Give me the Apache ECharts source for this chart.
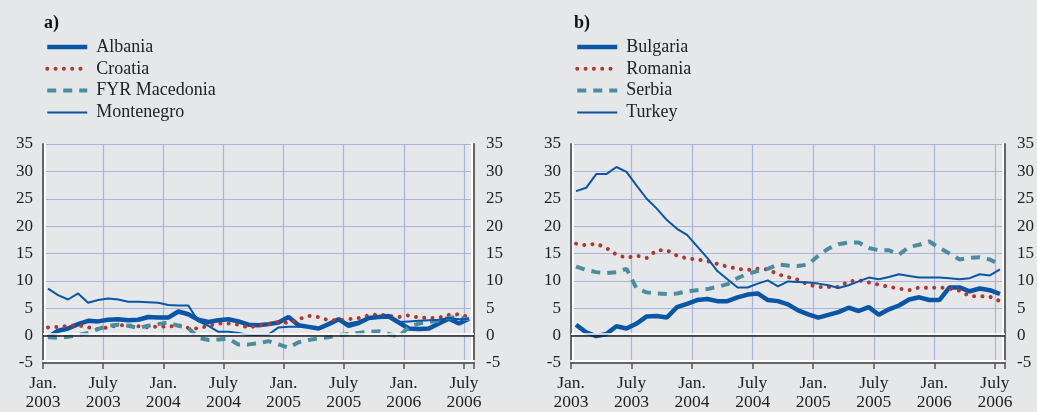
<!doctype html>
<html>
<head>
<meta charset="utf-8">
<title>inflation-see</title>
<script src="https://cdn.jsdelivr.net/npm/echarts@6/dist/echarts.min.js"></script>
<style>
  html, body { margin: 0; padding: 0; background: #e6e7e9; }
  #chart { width: 1037px; height: 412px; }
</style>
</head>
<body>
<div id="chart"></div>
<script>
// months Jan 2003 .. July 2006, points sit mid-month
var months = [
  '2003-01','2003-02','2003-03','2003-04','2003-05','2003-06','2003-07','2003-08','2003-09','2003-10','2003-11','2003-12',
  '2004-01','2004-02','2004-03','2004-04','2004-05','2004-06','2004-07','2004-08','2004-09','2004-10','2004-11','2004-12',
  '2005-01','2005-02','2005-03','2005-04','2005-05','2005-06','2005-07','2005-08','2005-09','2005-10','2005-11','2005-12',
  '2006-01','2006-02','2006-03','2006-04','2006-05','2006-06','2006-07'
];
var tickLabels = ['Jan.\n2003','July\n2003','Jan.\n2004','July\n2004','Jan.\n2005','July\n2005','Jan.\n2006','July\n2006'];

// panel a
var albania    = [-0.3,0.9,1.3,2.1,2.7,2.6,2.9,3.0,2.8,2.9,3.4,3.3,3.3,4.4,3.9,2.9,2.5,2.8,3.0,2.6,2.0,1.9,2.1,2.4,3.4,1.9,1.6,1.3,2.1,3.0,1.8,2.3,3.2,3.4,3.5,2.4,1.3,1.2,1.3,2.2,3.1,2.2,3.1];
var croatia    = [1.5,1.6,1.8,1.9,1.5,1.2,1.5,1.9,1.9,1.7,1.5,1.7,1.6,1.9,1.4,1.3,1.8,2.2,2.2,2.0,1.5,1.8,2.1,2.5,2.3,3.0,3.6,3.4,2.8,2.8,3.0,3.2,3.7,3.9,3.6,3.4,3.7,3.3,3.2,3.3,3.8,3.9,3.4];
var macedonia  = [-0.3,-0.4,-0.2,0.1,0.5,1.2,1.8,2.0,1.8,1.4,1.8,2.1,2.4,1.8,1.4,-0.4,-0.8,-0.7,-0.6,-1.6,-1.6,-1.4,-1.0,-1.6,-2.2,-1.2,-0.8,-0.5,-0.3,0.1,0.3,0.5,0.7,0.8,0.3,-0.2,1.6,2.2,2.5,2.7,3.3,3.3,3.0];
var montenegro = [8.6,7.4,6.6,7.7,6.0,6.5,6.8,6.6,6.2,6.2,6.1,6.0,5.6,5.5,5.5,2.6,1.8,0.7,0.7,0.5,0.1,0.1,0.2,1.5,1.6,1.6,1.6,1.2,2.0,2.8,2.2,2.6,3.3,3.6,3.8,2.5,2.6,2.7,2.8,2.9,3.2,3.0,3.1];

// panel b
var bulgaria = [2.0,0.6,-0.1,0.3,1.7,1.3,2.2,3.5,3.6,3.3,5.2,5.8,6.5,6.7,6.3,6.3,7.0,7.5,7.7,6.5,6.3,5.7,4.6,3.9,3.3,3.8,4.3,5.1,4.5,5.2,3.8,4.8,5.5,6.6,7.0,6.5,6.5,8.8,8.8,8.1,8.6,8.3,7.6];
var romania  = [16.8,16.5,16.8,16.0,14.8,14.2,14.6,14.2,15.6,15.6,14.6,14.1,13.9,13.6,13.1,12.6,12.2,12.0,12.2,12.1,11.2,10.7,10.2,9.3,8.9,8.9,8.9,9.9,10.1,9.7,9.3,8.9,8.6,8.3,8.8,8.7,8.8,8.6,8.2,7.2,7.2,7.1,6.3];
var serbia   = [12.6,12.0,11.6,11.4,11.6,12.2,8.6,7.9,7.7,7.6,7.7,8.1,8.3,8.5,8.9,9.4,10.5,11.3,11.8,12.2,13.0,12.8,12.7,13.0,14.6,15.9,16.7,17.0,17.0,16.0,15.6,15.6,14.8,16.2,16.6,17.2,16.0,15.0,13.9,14.2,14.3,13.9,13.0];
var turkey   = [26.4,27.0,29.5,29.5,30.8,29.9,27.4,25.0,23.2,21.1,19.5,18.4,16.3,14.2,11.8,10.3,8.8,8.8,9.5,10.1,9.0,9.9,9.8,9.7,9.5,9.2,8.7,9.2,9.9,10.6,10.3,10.7,11.2,10.9,10.6,10.6,10.6,10.5,10.3,10.5,11.2,11.0,12.1];

var FONT = 'Liberation Serif';
var BLUE = '#0a56a6', RED = '#b4352c', TEAL = '#4a8d9f';
var GRID_COLOR = '#a7b4dc';

// line looks, shared by series and legend
var styles = {
  thick:  { color: BLUE, width: 4.5, type: 'solid' },
  dotted: { color: RED,  width: 4,   type: [0.01, 8.3], cap: 'round' },
  dashed: { color: TEAL, width: 4,   type: [9, 7] },
  thin:   { color: BLUE, width: 2,   type: 'solid' }
};

function toPoints(values) {
  return values.map(function (v, i) { return [i + 0.5, v]; });
}

function xAxis(g) {
  return {
    type: 'value', gridIndex: g, min: 0, max: months.length, interval: 6,
    axisLine: { onZero: false, lineStyle: { color: '#666', width: 2, shadowColor: '#fff', shadowOffsetY: -2 } },
    axisTick: { length: 6, lineStyle: { color: '#555', width: 1.5 } },
    axisLabel: {
      fontFamily: FONT, fontSize: 17.5, color: '#222', lineHeight: 19, margin: 11,
      formatter: function (v) { return v % 6 === 0 ? tickLabels[v / 6] : ''; }
    },
    splitLine: { lineStyle: { color: GRID_COLOR, width: 1.2 } }
  };
}

function yAxis(g, pos) {
  var left = pos === 'left';
  return {
    type: 'value', gridIndex: g, position: pos, min: -5, max: 35, interval: 5,
    axisLine: { show: true, onZero: false, lineStyle: { color: '#666', width: 2, shadowColor: '#fff', shadowOffsetX: left ? 2 : -2 } },
    axisTick: { show: false },
    axisLabel: { fontFamily: FONT, fontSize: 17, color: '#222', margin: left ? 10 : 12 },
    splitLine: { show: left, lineStyle: { color: GRID_COLOR, width: 1 } }
  };
}

var zeroLine = {
  silent: true, symbol: 'none', label: { show: false },
  lineStyle: { color: '#222', width: 1.5, type: 'solid', shadowColor: '#fff', shadowOffsetY: -2 },
  data: [{ yAxis: 0 }]
};

function line(name, values, look, g, withZero) {
  var s = {
    name: name, type: 'line', xAxisIndex: g, yAxisIndex: g * 2,
    data: toPoints(values), symbol: 'none', silent: true,
    lineStyle: styles[look]
  };
  if (withZero) s.markLine = zeroLine;
  return s;
}

function legend(left, items) {
  return {
    left: left, top: 33, orient: 'vertical',
    itemWidth: 40, itemHeight: 14, itemGap: 3.8,
    selectedMode: false,
    itemStyle: { opacity: 0 },
    textStyle: { fontFamily: FONT, fontSize: 18, color: '#222', padding: [0, 0, 0, 4] },
    data: items.map(function (it) { return { name: it[0], lineStyle: styles[it[1]] }; })
  };
}

var chart = echarts.init(document.getElementById('chart'));
chart.setOption({
  animation: false,
  backgroundColor: '#e6e7e9',
  title: [
    { text: 'a)', left: 39, top: 9, textStyle: { fontFamily: FONT, fontSize: 18, fontWeight: 'bold', color: '#111' } },
    { text: 'b)', left: 569, top: 9, textStyle: { fontFamily: FONT, fontSize: 18, fontWeight: 'bold', color: '#111' } }
  ],
  legend: [
    legend(40, [['Albania', 'thick'], ['Croatia', 'dotted'], ['FYR Macedonia', 'dashed'], ['Montenegro', 'thin']]),
    legend(570, [['Bulgaria', 'thick'], ['Romania', 'dotted'], ['Serbia', 'dashed'], ['Turkey', 'thin']])
  ],
  grid: [
    { left: 43, top: 144, width: 431, height: 221 },
    { left: 571, top: 144, width: 434, height: 221 }
  ],
  xAxis: [xAxis(0), xAxis(1)],
  yAxis: [yAxis(0, 'left'), yAxis(0, 'right'), yAxis(1, 'left'), yAxis(1, 'right')],
  series: [
    line('Albania', albania, 'thick', 0, true),
    line('Croatia', croatia, 'dotted', 0),
    line('FYR Macedonia', macedonia, 'dashed', 0),
    line('Montenegro', montenegro, 'thin', 0),
    line('Bulgaria', bulgaria, 'thick', 1, true),
    line('Romania', romania, 'dotted', 1),
    line('Serbia', serbia, 'dashed', 1),
    line('Turkey', turkey, 'thin', 1)
  ]
});
</script>
</body>
</html>
